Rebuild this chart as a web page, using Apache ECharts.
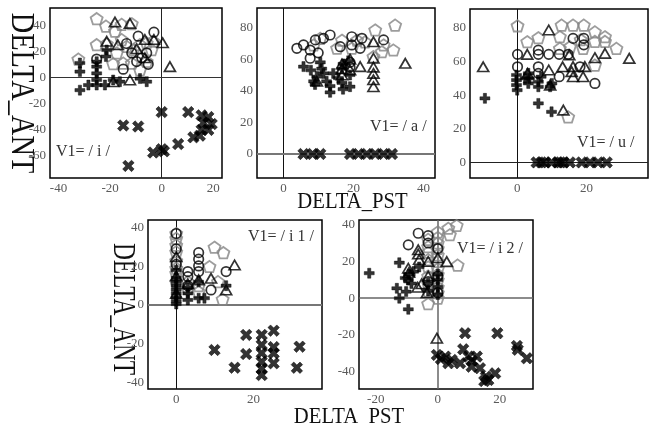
<!DOCTYPE html>
<html>
<head>
<meta charset="utf-8">
<script src="https://cdn.jsdelivr.net/npm/echarts@6/dist/echarts.min.js"></script>
<style>
html,body{margin:0;padding:0;background:#fff;}
#chart{width:653px;height:425px;}
</style>
</head>
<body>
<div id="chart"></div>
<script>
// ---------- data ----------
const p1Pent = [[-25.2,45.1],[-21.6,39.4],[-18.1,35.5],[-15.5,40.7],[-11.6,41.2],[-25.2,25.1],[-21.3,25.7],[-18.8,10.4],[-32.3,14],[-15.5,29],[-13.6,23.8],[-17.4,18.7],[-11,21.2],[-8.4,25.1],[-11.6,10.9],[-8.4,5.7],[-5.8,12.1],[-3.9,21.2],[-3.3,27.7],[-14.9,10.9],[-5.8,26.5]];
const p1Circ = [[-25.2,14],[-3,34.7],[-14.9,6.2],[-9.1,31.6],[-11.6,18.7],[-5.8,18.7],[-13.6,26],[-9.7,12.1],[-7.7,15],[-5.2,10]];
const p1Tri = [[-18.1,42.5],[-12.3,41.5],[-21.3,27.7],[-6.5,29],[-3,29],[0.4,26.5],[3.2,8.2],[-12.3,-2.1],[-18.8,-3.4],[-17,25],[-6.5,15],[-9.7,22]];
const p1Plus = [[-31.7,-9.9],[-28.4,-6],[-25.2,-6],[-22,-6],[-31.7,4.4],[-31.7,11],[-25.2,8.2],[-25.2,3],[-25.2,-2],[-21.6,16],[-18.8,-2.1],[-16.2,-3.4],[-5.8,-3.4],[-21.3,21],[-8.4,-1],[-25.2,12]];
const p1X = [[0,-26.8],[-14.9,-37.1],[-9.1,-37.9],[-12.9,-68.2],[-3.3,-57.9],[0,-55.3],[0.9,-57],[6.4,-51.4],[10.3,-26.8],[12.3,-46.2],[15.5,-29.3],[18.1,-30.6],[15.5,-40.5],[18.1,-40.5],[14.8,-44.9],[19.4,-36],[16.2,-35]];

const p2Pent = [[31.9,81.6],[26.2,78.5],[28.6,69],[31.4,65.8],[21,72],[16.7,72],[15.3,66.9],[19.5,66.9],[25.7,61.6],[28.1,64.7],[10.5,73.2],[8.6,69],[23.3,71]];
const p2Circ = [[3.8,66.9],[5.7,69],[7.6,65.8],[9.1,72.2],[11.4,73.2],[13.3,75.3],[19.5,74.2],[22.4,73.2],[19.5,69],[21.9,66.9],[28.6,72.2],[16.2,67.9],[7.6,60.6],[9.9,64],[19,58],[19,55]];
const p2Tri = [[34.8,57.4],[25.7,60.6],[25.7,55],[25.7,51],[25.7,47],[25.7,42.6],[21.9,55.3],[19,53.2],[16.7,57],[25.7,71],[16.7,54],[19,60],[16.7,50],[9.5,46]];
const p2Plus = [[5.7,55.3],[7.8,53],[9.5,49],[10.5,58],[11.4,51],[12.3,46],[13.3,43],[14.2,51],[15.7,48],[16.7,54],[13.3,39],[8.6,46],[19,42.6],[10.9,54],[16.7,45],[17,41],[19,50],[17,57],[18.5,59],[9,44]];
const p2X = [[5.7,0],[8.3,0],[10.5,0],[19,0],[21.4,0],[23.8,0],[26.2,0],[28.6,0],[31,0]];

const p3Pent = [[0.1,81.3],[2.9,71.8],[6.1,74.2],[12.8,81.7],[16.1,81.7],[19.2,81.7],[22.4,77.7],[25.3,74.8],[28.6,67.9],[25.3,72],[12.3,74.8],[12.3,67.9],[15.2,68.8],[22.4,72],[19,67.9],[22.4,57.9],[14.7,27.1],[18.3,73]];
const p3Circ = [[0.1,64.3],[0.1,56.9],[6.1,66.8],[6.1,64.3],[6.1,56.9],[9.1,64.3],[12.1,64.3],[16.1,73.8],[19.2,73.8],[19.2,70],[12.1,51],[22.4,47],[18.1,56.9],[14.7,64.3],[6.1,53]];
const p3Tri = [[-9.8,56.9],[2.9,64.3],[9.1,78.8],[9.1,55],[13.1,56.9],[15.7,54],[16.1,51],[19,51],[19.5,57],[22.4,62.3],[25.3,64.9],[32.3,61.9],[13.3,31.1],[15,64],[16.1,57],[3,53],[9.5,46]];
const p3Plus = [[-9.3,38.1],[-0.2,46],[-0.2,49],[-0.2,52],[3.2,47],[6.1,45],[6.1,35.1],[9.9,30.1],[9.5,45],[6.9,51],[3.2,53],[2.3,50],[0,43],[3.5,50],[6.1,48],[10,47]];
const p3X = [[5.6,0],[8,0],[9.9,0],[11.8,0],[13.3,0],[15.2,0],[18.6,0],[21,0],[23.3,0],[25.8,0],[7,0],[12.5,0]];

const p4Pent = [[0,37],[0,34.5],[0,31],[0,27.5],[0,23],[0,19],[0,16.5],[3,8.6],[5.8,6.9],[9.9,29.9],[12.2,27.1],[8.6,19.9],[10.8,12.1],[12,3],[5.8,10],[3,12],[0,12]];
const p4Circ = [[0,37],[3,17.3],[3,14.7],[5.8,27.1],[5.8,23.7],[5.8,20.2],[5.8,17.3],[12.9,17.3],[9,7.8],[0,21],[3,10],[0,29]];
const p4Tri = [[15.1,20.7],[9,13.8],[12.9,7.8],[0,25],[3,11],[5.8,13],[0,15],[0,6]];
const p4Plus = [[0,14],[0,12],[0,10],[0,8],[0,6],[0,4],[0,2],[0,0.5],[3,2.6],[3,6],[5.8,3.5],[7.3,3.5],[12.9,10],[0,18],[3,9],[5.8,12]];
const p4X = [[9.9,-23.3],[15.1,-32.5],[18.1,-15.5],[18.1,-25.4],[22.1,-15.5],[22.1,-20.7],[22.1,-24.9],[22.1,-29.4],[22.1,-33],[22.1,-36.3],[25.2,-13.3],[25.2,-21.8],[25.2,-25],[25.2,-30.2],[31.9,-21.6],[31.2,-32.5]];

const p5Pent = [[0,36],[0,33],[0,30],[0,27],[0,23.5],[0,20],[0,16],[0,13],[0,10],[0,6],[0,3],[0,0],[-3.1,32],[-3.1,28],[-3.1,25],[-3.1,21],[-3.1,17],[-3.1,12],[-3.1,8],[-3.1,4],[-3.1,-3],[3.4,38],[6.1,39.5],[3.9,34.5],[6.4,18]];
const p5Circ = [[-6.3,35.3],[-9.5,29],[-3.1,34],[-3.1,30],[0,27],[0,12],[-3.1,9],[0,3]];
const p5Tri = [[2.9,19.9],[-0.3,-21.7],[-6.3,26.3],[-9.5,16.3],[-6.5,6],[-3.5,3],[-6.3,24],[-5.2,7.9],[-3.1,12],[0,22],[-3.1,20],[-9.3,14],[-6,21]];
const p5Plus = [[-22.1,13.6],[-12.4,19.3],[-13.2,5.4],[-12.4,0],[-10.2,3.6],[-9.5,-6],[-9.5,10],[-7.8,14.5],[-10.5,11],[-9.3,13],[0,13],[0,10],[0,6],[0,2],[-3.1,8],[-3.1,4],[-8.5,8],[-6,17]];
const p5X = [[-0.3,-30.8],[2.4,-31.7],[3.4,-35.3],[7.2,-35.3],[8.8,-19],[8.2,-27.7],[9.9,-31.7],[12.6,-31.7],[10.9,-37.2],[13.6,-38],[15.5,-42.6],[16.3,-44.4],[18.5,-40.8],[19.2,-19],[25.5,-25.9],[25.8,-28],[28.7,-32.6],[4.5,-33.5],[1,-33],[15,-45],[11,-34]];

const p1XTicks = [-40,-20,0,20], p1YTicks = [-60,-40,-20,0,20,40];
const p2XTicks = [0,20,40],      p2YTicks = [0,20,40,60,80];
const p3XTicks = [0,20],         p3YTicks = [0,20,40,60,80];
const p4XTicks = [0,20],         p4YTicks = [-40,-20,0,20,40];
const p5XTicks = [-20,0,20],     p5YTicks = [-40,-20,0,20,40];

const panelLabels = ['V1= / i /','V1= / a /','V1= / u /','V1= / i 1 /','V1= / i 2 /'];

// ---------- layout / style ----------
const FONT = '"Liberation Serif", "DejaVu Serif", serif';
const panels = [
  {grid:{left:50,top:8,width:172,height:170},  x:[-43.3,23.4], y:[-77.5,53.3], xt:p1XTicks, yt:p1YTicks,
   data:[p1Pent,p1Circ,p1Tri,p1Plus,p1X], vline:{color:'#222',width:1}, hline:{color:'#333',width:1}},
  {grid:{left:257,top:8,width:178,height:170}, x:[-7.6,43.3],  y:[-15.2,92.4], xt:p2XTicks, yt:p2YTicks,
   data:[p2Pent,p2Circ,p2Tri,p2Plus,p2X], vline:{color:'#111',width:1}, hline:{color:'#777',width:2}},
  {grid:{left:470,top:9,width:178,height:169}, x:[-13.6,37.7], y:[-9.3,91.3],  xt:p3XTicks, yt:p3YTicks,
   data:[p3Pent,p3Circ,p3Tri,p3Plus,p3X], vline:{color:'#111',width:1}, hline:{color:'#222',width:1}},
  {grid:{left:148,top:220,width:174,height:169}, x:[-7.3,37.7], y:[-43.5,44],  xt:p4XTicks, yt:p4YTicks,
   data:[p4Pent,p4Circ,p4Tri,p4Plus,p4X], vline:{color:'#111',width:1}, hline:{color:'#777',width:2}},
  {grid:{left:359,top:220,width:174,height:169}, x:[-25.4,30.7], y:[-49.3,42.5], xt:p5XTicks, yt:p5YTicks,
   data:[p5Pent,p5Circ,p5Tri,p5Plus,p5X], vline:{color:'#666',width:1.5}, hline:{color:'#666',width:1.5}}
];

const PENT = 'path://M50,0L97.6,34.5L79.4,90.5L20.6,90.5L2.4,34.5Z';
const PLUS = 'path://M3.4,0H6.6V3.4H10V6.6H6.6V10H3.4V6.6H0V3.4H3.4Z';
const XMARK = 'path://M2.3,0L5,2.7L7.7,0L10,2.3L7.3,5L10,7.7L7.7,10L5,7.3L2.3,10L0,7.7L2.7,5L0,2.3Z';
const markers = [
  {symbol:PENT, size:[12,11.4], itemStyle:{color:'rgba(0,0,0,0)', borderColor:'#858585', borderWidth:1.8}},
  {symbol:'circle', size:9.5, itemStyle:{color:'rgba(0,0,0,0)', borderColor:'#000', borderWidth:1.7}},
  {symbol:'triangle', size:[11,9.5], itemStyle:{color:'rgba(0,0,0,0)', borderColor:'#000', borderWidth:1.7}},
  {symbol:PLUS, size:10, itemStyle:{color:'#000', borderColor:'#000', borderWidth:0.5}},
  {symbol:XMARK, size:11.5, itemStyle:{color:'#000', borderColor:'#000', borderWidth:0.6}}
];

const grid = [], xAxis = [], yAxis = [], series = [];
panels.forEach((p, i) => {
  grid.push(Object.assign({show:true, borderColor:'#000', borderWidth:1.5, backgroundColor:'transparent', containLabel:false}, p.grid));
  const common = {axisLine:{show:false}, axisTick:{show:false}, splitLine:{show:false}};
  xAxis.push(Object.assign({gridIndex:i, type:'value', min:p.x[0], max:p.x[1],
    axisLabel:{customValues:p.xt, color:'#5a5a5a', fontFamily:FONT, fontSize:13, margin:4}}, common));
  yAxis.push(Object.assign({gridIndex:i, type:'value', min:p.y[0], max:p.y[1],
    axisLabel:{customValues:p.yt, color:'#5a5a5a', fontFamily:FONT, fontSize:13, margin:4}}, common));
  p.data.forEach((d, k) => {
    const m = markers[k];
    const s = {type:'scatter', xAxisIndex:i, yAxisIndex:i, data:d, symbol:m.symbol, symbolSize:m.size,
      itemStyle:m.itemStyle, emphasis:{disabled:true}, silent:true, z:2+k};
    if (k === 0) {
      s.markLine = {silent:true, symbol:['none','none'], label:{show:false}, animation:false, z:1,
        data:[{xAxis:0, lineStyle:{type:'solid', color:p.vline.color, width:p.vline.width}},
              {yAxis:0, lineStyle:{type:'solid', color:p.hline.color, width:p.hline.width}}]};
    }
    series.push(s);
  });
});

const txt = (x, y, text, size, opts) => Object.assign({type:'text', x:x, y:y, silent:true,
  style:{text:text, font:size + 'px ' + FONT, fill:'#111', align:'center', verticalAlign:'middle'}}, opts || {});
const lab = (x, y, text) => ({type:'text', x:x, y:y, silent:true,
  style:{text:text, font:'16px ' + FONT, fill:'#333', align:'left', verticalAlign:'middle'}});

const graphic = [
  txt(21, 93, 'DELTA_ANT', 33, {rotation:-Math.PI/2, scaleX:0.86}),
  txt(122.5, 309, 'DELTA_ANT', 32, {rotation:-Math.PI/2, scaleX:0.73}),
  txt(352.5, 202, 'DELTA_PST', 22.5, {scaleX:0.92}),
  txt(349, 417.5, 'DELTA_PST', 22.5, {scaleX:0.92}),
  lab(56, 152, panelLabels[0]),
  lab(370, 127, panelLabels[1]),
  lab(577, 143, panelLabels[2]),
  lab(248, 237, panelLabels[3]),
  lab(457, 249, panelLabels[4])
];

const chart = echarts.init(document.getElementById('chart'), null, {renderer:'canvas'});
chart.setOption({animation:false, backgroundColor:'#fff', grid, xAxis, yAxis, series, graphic});
</script>
</body>
</html>
